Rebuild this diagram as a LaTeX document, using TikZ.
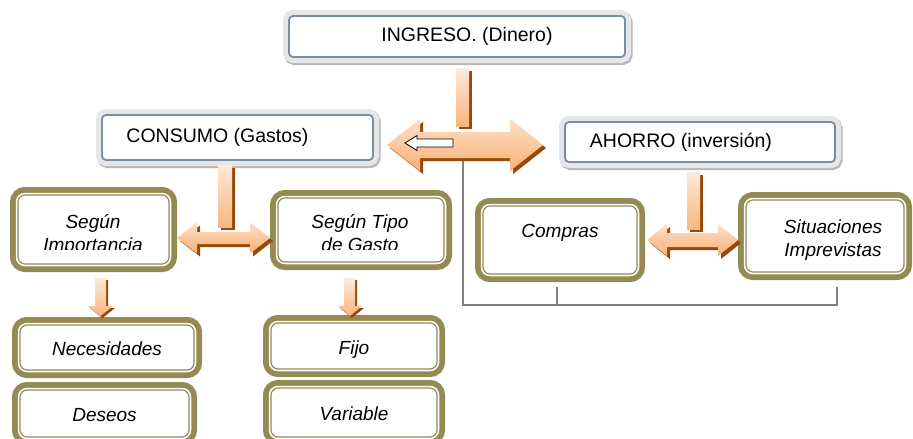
\documentclass[tikz,border=0pt]{standalone}
\usepackage{fontspec}
\setmainfont{Liberation Sans}
\definecolor{olv}{HTML}{948A54}
\definecolor{org}{HTML}{F79646}
\definecolor{brn}{HTML}{984807}
\definecolor{slt}{HTML}{7D8CA5}
\definecolor{band}{HTML}{E6E6E6}
\definecolor{gline}{HTML}{808080}
\tikzset{
 hdrbox/.style={rounded corners=4pt, fill=white, draw=slt, line width=1.8pt,
   preaction={draw=black!28, line width=12pt, transform canvas={xshift=1.5pt,yshift=-2pt}},
   preaction={draw=band, line width=12pt},
   inner sep=0pt, font=\fontsize{19.5}{24}\selectfont},
 olvbox/.style={rounded corners=7pt, fill=white, draw=olv, line width=1.2pt,
   preaction={draw=olv, line width=16pt},
   preaction={draw=white, line width=4.5pt},
   inner sep=0pt, align=center, font=\fontsize{19}{23}\selectfont\itshape},
 oneline/.style={text height=17pt, text depth=1pt},
 txt/.style={inner sep=0pt, align=center, font=\fontsize{19}{23}\selectfont\itshape},
 greyline/.style={draw=gline, line width=2.5pt},
 shd/.style={fill=brn},
 hshade/.style={top color=org!30!white, middle color=org, bottom color=org!75!white},
 vshade/.style={top color=org!20!white, middle color=org, bottom color=org!70!white},
}
% horizontal double arrow: xleft, xright, ycenter, head half, shaft half, head length
\newcommand{\hdarr}[6]{%
  \fill[shd,shift={(3,3)}] (#1,#3) -- (#1+#6,#3-#4) -- (#1+#6,#3-#5) -- (#2-#6,#3-#5) -- (#2-#6,#3-#4) -- (#2,#3) -- (#2-#6,#3+#4) -- (#2-#6,#3+#5) -- (#1+#6,#3+#5) -- (#1+#6,#3+#4) -- cycle;
  \shade[hshade] (#1,#3) -- (#1+#6,#3-#4) -- (#1+#6,#3-#5) -- (#2-#6,#3-#5) -- (#2-#6,#3-#4) -- (#2,#3) -- (#2-#6,#3+#4) -- (#2-#6,#3+#5) -- (#1+#6,#3+#5) -- (#1+#6,#3+#4) -- cycle;
}
% vertical bar: x1, x2, y1, y2
\newcommand{\vbarr}[4]{%
  \fill[shd,shift={(3,3)}] (#1,#3) rectangle (#2,#4);
  \shade[vshade] (#1,#3) rectangle (#2,#4);
}
% down arrow: shaft x1,x2, top y1, head y, head xl, xr, tip y
\newcommand{\darr}[7]{%
  \fill[shd,shift={(2,2)}] (#1,#3) -- (#2,#3) -- (#2,#4) -- (#6,#4) -- ({(#5+#6)/2},#7) -- (#5,#4) -- (#1,#4) -- cycle;
  \shade[vshade] (#1,#3) -- (#2,#3) -- (#2,#4) -- (#6,#4) -- ({(#5+#6)/2},#7) -- (#5,#4) -- (#1,#4) -- cycle;
}
\begin{document}
\begin{tikzpicture}[x=1pt,y=-1pt]
\useasboundingbox[fill=white] (0,0) rectangle (913,439);

% header boxes
\node[hdrbox, minimum width=336pt, minimum height=41pt] (ingreso) at (457,36.5) {\hspace*{20pt}INGRESO. (Dinero)};
\node[hdrbox, minimum width=271pt, minimum height=45pt] (consumo) at (237.5,137.5) {CONSUMO (Gastos)\hspace*{40pt}};
\node[hdrbox, minimum width=270pt, minimum height=40pt] (ahorro) at (700,142) {AHORRO (inversión)\hspace*{38pt}};

% olive boxes
\node[olvbox, minimum width=151pt, minimum height=69pt] (imp) at (93.5,229.5) {};
\node[olvbox, minimum width=166pt, minimum height=64pt] (tipo) at (361,230) {};
\node[olvbox, minimum width=154pt, minimum height=68pt] (compras) at (560,240) {};
\node[olvbox, minimum width=158pt, minimum height=72pt] (imprev) at (825,236) {};
\node[olvbox, oneline, minimum width=174pt, minimum height=45pt] (neces) at (107,347.5) {Necesidades};
\node[olvbox, oneline, minimum width=169pt, minimum height=47pt] (deseos) at (104.5,413.5) {Deseos};
\node[olvbox, oneline, minimum width=166pt, minimum height=46pt] (fijo) at (354,346) {Fijo};
\node[olvbox, oneline, minimum width=166pt, minimum height=49pt] (variable) at (354,412.5) {Variable};

\node[txt, oneline] (comprasT) at (560,229) {Compras};
\node[txt] (imprevT) at (833,240) {Situaciones\\Imprevistas};

\node[txt, oneline] (impA) at (93,220.5) {Según};
\node[txt, oneline] (tipoA) at (360,220.5) {Según Tipo};
\begin{scope}
\clip (0,180) rectangle (460,249.5);
\node[txt, oneline] (impB) at (93,243) {Importancia};
\node[txt, oneline] (tipoB) at (360,243) {de Gasto};
\end{scope}

% grey bracket line
\coordinate (gl) at (463,150);
\coordinate (gb) at (837,305);
\coordinate (gs) at (837,287);
\coordinate (gc) at (557,287);
\draw[greyline] (gl) |- (gb) -- (gs);
\draw[greyline] (gc) -- (gc |- gb);

% orange bars and arrows
\vbarr{456}{469}{68}{126}
\hdarr{387}{543}{145}{26}{13}{33}
\draw[fill=white, line width=0.8pt] (405,143) -- (417,135.5) -- (417,139) -- (453,139) -- (453,147) -- (417,147) -- (417,150.5) -- cycle;

\vbarr{218}{232}{165}{227}
\hdarr{177}{270}{238}{15.5}{6}{20}

\vbarr{687}{700}{172}{229}
\hdarr{647}{738}{240}{16}{7}{20}

\darr{95}{106}{278}{306}{88}{113}{316}
\darr{344}{355}{278}{306}{338}{362}{316}
\end{tikzpicture}
\end{document}
